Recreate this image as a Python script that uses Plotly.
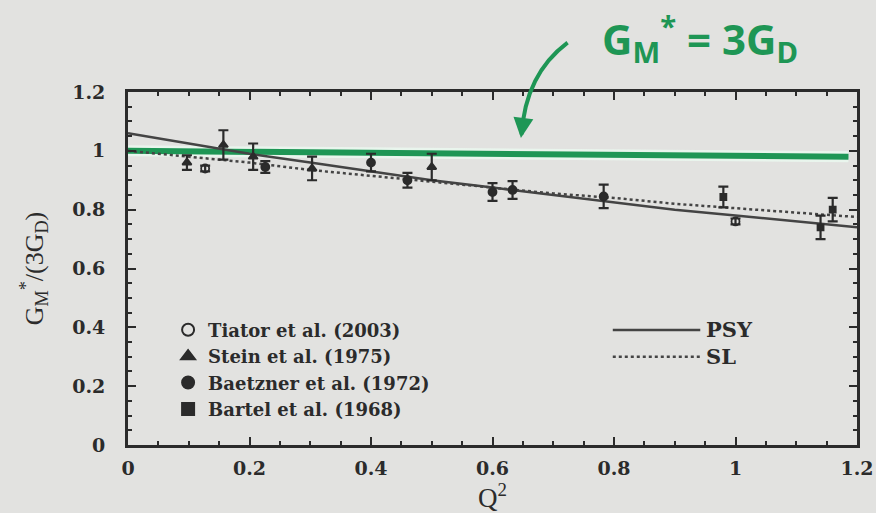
import plotly.graph_objects as go

# --- measured points: Q^2 (GeV^2), G_M*/(3G_D), error ---
tiator_q = [0.127, 1.00]
tiator_y = [0.94, 0.76]
tiator_e = [0.01, 0.01]

stein_q = [0.097, 0.157, 0.206, 0.303, 0.50]
stein_y = [0.96, 1.02, 0.98, 0.94, 0.945]
stein_e = [0.025, 0.05, 0.045, 0.04, 0.045]

baetzner_q = [0.226, 0.40, 0.46, 0.60, 0.633, 0.783]
baetzner_y = [0.945, 0.96, 0.90, 0.86, 0.867, 0.845]
baetzner_e = [0.02, 0.03, 0.025, 0.03, 0.03, 0.04]

bartel_q = [0.98, 1.14, 1.16]
bartel_y = [0.843, 0.74, 0.80]
bartel_e = [0.035, 0.04, 0.04]

# --- model curves ---
psy_q = [0.0, 0.1, 0.2, 0.3, 0.4, 0.5, 0.6, 0.7, 0.8, 0.9, 1.0, 1.1, 1.2]
psy_y = [1.06, 1.025, 0.99, 0.96, 0.93, 0.90, 0.875, 0.85, 0.825, 0.80, 0.78, 0.76, 0.74]

sl_q = [0.0, 0.1, 0.2, 0.3, 0.4, 0.5, 0.6, 0.7, 0.8, 0.9, 1.0, 1.1, 1.2]
sl_y = [1.0, 0.98, 0.96, 0.935, 0.915, 0.895, 0.875, 0.855, 0.84, 0.82, 0.805, 0.79, 0.775]

# hand-drawn G_M* = 3 G_D reference line
green_q = [0.0, 1.186]
green_y = [1.0, 0.98]

tick_vals = [0, 0.2, 0.4, 0.6, 0.8, 1, 1.2]
tick_text = ["0", "0.2", "0.4", "0.6", "0.8", "1", "1.2"]

INK = "#2b2b2b"
GREEN = "rgb(30,150,85)"
BG = "#e2e2e0"
SERIF = "DejaVu Serif"
TITLE_SERIF = "Liberation Serif"

fig = go.Figure()

# green marker-pen line with a soft halo
fig.add_trace(go.Scatter(x=green_q, y=green_y, mode="lines",
                         line=dict(color="rgba(235,250,240,0.8)", width=11),
                         showlegend=False, hoverinfo="skip"))
fig.add_trace(go.Scatter(x=green_q, y=green_y, mode="lines",
                         line=dict(color=GREEN, width=6),
                         showlegend=False, hoverinfo="skip"))

fig.add_trace(go.Scatter(x=psy_q, y=psy_y, mode="lines", name="PSY",
                         line=dict(color="#444", width=2.5), showlegend=False))
fig.add_trace(go.Scatter(x=sl_q, y=sl_y, mode="lines", name="SL",
                         line=dict(color="#444", width=2.5, dash="dot"), showlegend=False))


def data_trace(q, y, e, name, symbol, size):
    return go.Scatter(
        x=q, y=y, mode="markers", name=name,
        marker=dict(symbol=symbol, size=size, color=INK,
                    line=dict(color=INK, width=1.8)),
        error_y=dict(type="data", array=e, color=INK, thickness=2.2, width=5),
    )


fig.add_trace(data_trace(tiator_q, tiator_y, tiator_e, "Tiator et al. (2003)", "circle-open", 8))
fig.add_trace(data_trace(stein_q, stein_y, stein_e, "Stein et al. (1975)", "triangle-up", 8))
fig.add_trace(data_trace(baetzner_q, baetzner_y, baetzner_e, "Baetzner et al. (1972)", "circle", 8))
fig.add_trace(data_trace(bartel_q, bartel_y, bartel_e, "Bartel et al. (1968)", "square", 6))

axis_common = dict(
    showline=True, linecolor=INK, linewidth=2.8, mirror="ticks",
    ticks="inside", ticklen=8, tickwidth=2, tickcolor=INK,
    showgrid=False, zeroline=False, tickvals=tick_vals, ticktext=tick_text,
    range=[0, 1.2], automargin=False,
    tickfont=dict(family=SERIF, size=19, color=INK, weight="bold"),
    minor=dict(ticks="inside", ticklen=4, tickwidth=1.5, tickcolor=INK, dtick=0.05),
)

fig.update_xaxes(title=dict(text="Q<sup>2</sup>", font=dict(family=TITLE_SERIF, size=27, color=INK),
                            standoff=0),
                 ticklabelstandoff=4, **axis_common)
fig.update_yaxes(title=dict(text="G<sub>M</sub><sup>*</sup>/(3G<sub>D</sub>)",
                            font=dict(family=TITLE_SERIF, size=26, color=INK), standoff=22),
                 ticklabelstandoff=16, **axis_common)

# second key for the model curves, drawn as long line samples
key_y_psy = 0.326
key_y_sl = 0.25
key_shapes = [
    dict(type="line", xref="paper", yref="paper", x0=0.665, x1=0.785, y0=key_y_psy, y1=key_y_psy,
         line=dict(color="#444", width=2.5)),
    dict(type="line", xref="paper", yref="paper", x0=0.665, x1=0.785, y0=key_y_sl, y1=key_y_sl,
         line=dict(color="#444", width=2.5, dash="dot")),
]
key_labels = [
    dict(xref="paper", yref="paper", x=0.79, y=key_y_psy, xanchor="left", yanchor="middle",
         showarrow=False, text="<b>PSY</b>", font=dict(family=SERIF, size=21, color=INK)),
    dict(xref="paper", yref="paper", x=0.79, y=key_y_sl, xanchor="left", yanchor="middle",
         showarrow=False, text="<b>SL</b>", font=dict(family=SERIF, size=21, color=INK)),
]

fig.update_layout(
    width=876, height=513,
    margin=dict(l=128, r=19, t=92, b=68, autoexpand=False),
    paper_bgcolor=BG, plot_bgcolor=BG,
    legend=dict(x=0.055, y=0.378, xanchor="left", yanchor="top", bgcolor="rgba(0,0,0,0)",
                font=dict(family=SERIF, size=18, color=INK, weight="bold"), itemwidth=30,
                tracegroupgap=0, itemsizing="constant"),
    shapes=[
        # curved pointer from the handwritten note down to the green line
        dict(type="path", xref="paper", yref="paper",
             path="M 0.603 1.14 Q 0.545 1.05 0.540 0.88",
             line=dict(color=GREEN, width=4)),
    ] + key_shapes,
    annotations=[
        dict(xref="paper", yref="paper", x=0.785, y=1.15, xanchor="center", yanchor="middle",
             showarrow=False,
             text="<b>G<sub>M</sub><sup>*</sup> = 3G<sub>D</sub></b>",
             font=dict(family="Noto Sans", size=42, color=GREEN)),
        dict(xref="paper", yref="paper", x=0.539, y=0.87, ax=2, ay=-16,
             showarrow=True, arrowhead=2, arrowsize=1, arrowwidth=4,
             arrowcolor=GREEN, text=""),
    ] + key_labels,
)

fig.write_html("out.html")
